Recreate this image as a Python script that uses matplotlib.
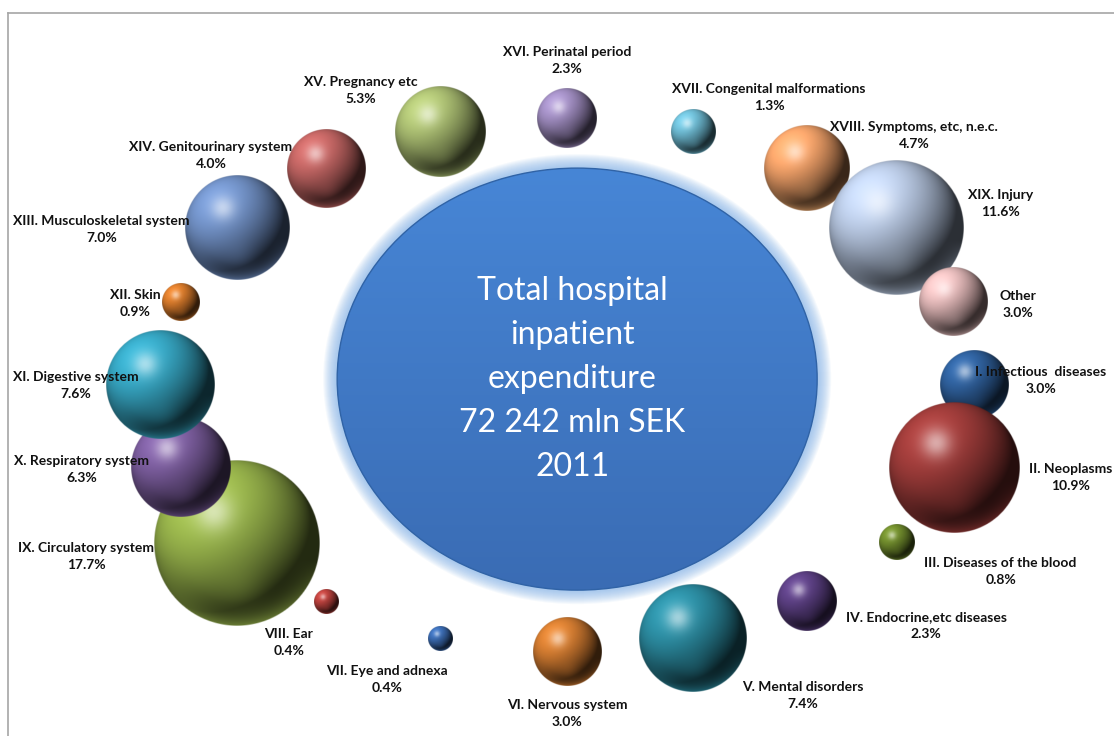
import numpy as np
import matplotlib
matplotlib.use("Agg")
import matplotlib.pyplot as plt
from matplotlib.patches import Ellipse
from matplotlib.lines import Line2D
from matplotlib.colors import to_rgb

# ---------------- data ----------------
categories = ["I. Infectious  diseases", "II. Neoplasms", "III. Diseases of the blood",
              "IV. Endocrine,etc diseases", "V. Mental disorders", "VI. Nervous system",
              "VII. Eye and adnexa", "VIII. Ear", "IX. Circulatory system",
              "X. Respiratory system", "XI. Digestive system", "XII. Skin",
              "XIII. Musculoskeletal system", "XIV. Genitourinary system", "XV. Pregnancy etc",
              "XVI. Perinatal period", "XVII. Congenital malformations",
              "XVIII. Symptoms, etc, n.e.c.", "XIX. Injury", "Other"]
shares = [3.0, 10.9, 0.8, 2.3, 7.4, 3.0, 0.4, 0.4, 17.7, 6.3,
          7.6, 0.9, 7.0, 4.0, 5.3, 2.3, 1.3, 4.7, 11.6, 3.0]
x_pos = [1.00, 0.95, 0.81, 0.59, 0.31, 0.00, -0.31, -0.59, -0.81, -0.95,
         -1.00, -0.95, -0.81, -0.59, -0.31, 0.00, 0.31, 0.59, 0.81, 0.95]
y_pos = [0.00, -0.31, -0.59, -0.81, -0.95, -1.00, -0.95, -0.81, -0.59, -0.31,
         0.00, 0.31, 0.59, 0.81, 0.95, 1.00, 0.95, 0.81, 0.59, 0.31]
center_text = "Total hospital\ninpatient\nexpenditure\n72 242 mln SEK\n2011"

# ---------------- styles ----------------
colors = ["#2f609c", "#9c3b39", "#6f8a2c", "#5b3f82", "#2b8a9f", "#d07a30",
          "#3a6ab0", "#b8403c", "#95b04a", "#7a5c9c", "#35a2be", "#d4782a",
          "#6f8ec2", "#c06462", "#a8bb70", "#9d8abd", "#6cb8d0", "#f0a068",
          "#b6c6e0", "#e2b8b8"]
# label offsets (pixels, x right / y down) from bubble centre to label centre
label_off = [(67, -4), (117, 10), (104, 29), (119, 24), (110, 57), (0, 61),
             (-54, 41), (-38, 41), (-151, 14), (-99, 2), (-84, 1), (-45, 1),
             (-136, 2), (-116, -13), (-80, -41), (0, -57), (76, -34), (107, -33),
             (104, -24), (64, 2)]
MAX_R_PX = 83.0

W, H, DPI = 1114, 736, 100
fig = plt.figure(figsize=(W / DPI, H / DPI), dpi=DPI)
ax = fig.add_axes([0, 0, 1, 1])
xmin, xmax = -1.3931, 1.3440
ymin, ymax = -1.3146, 1.4419
ax.set_xlim(xmin, xmax)
ax.set_ylim(ymin, ymax)
ax.axis("off")
sx = W / (xmax - xmin)
sy = H / (ymax - ymin)


def sphere_rgba(color, n=240):
    c = np.array(to_rgb(color))
    t = np.linspace(-1, 1, n)
    X, Y = np.meshgrid(t, t)
    R2 = X ** 2 + Y ** 2
    r = np.sqrt(R2)
    Z = np.sqrt(np.clip(1 - R2, 0, 1))
    L = np.array([-0.45, 0.55, 0.70])
    L = L / np.linalg.norm(L)
    diff = np.clip(X * L[0] + Y * L[1] + Z * L[2], 0, 1)
    shade = 0.24 + 0.92 * diff
    rgb = c[None, None, :] * shade[..., None]
    hl = np.exp(-((X + 0.28) ** 2 + (Y - 0.38) ** 2) / 0.05)
    rgb = rgb + (1 - rgb) * 0.55 * hl[..., None]
    rim = np.clip((r - 0.72) / 0.28, 0, 1) ** 1.5 * np.clip((-Y - 0.2) / 0.8, 0, 1)
    rgb = rgb * (1 - 0.5 * rim[..., None]) + np.clip(c * 1.15, 0, 1) * 0.5 * rim[..., None]
    refl = np.exp(-((X - 0.05) ** 2 + (Y + 0.55) ** 2) / 0.08) * 0.12
    rgb = rgb + (np.clip(c * 1.2, 0, 1) - rgb) * refl[..., None]
    rgb = np.clip(rgb, 0, 1)
    a = np.clip((1 - r) * n / 2 + 0.5, 0, 1)
    return np.dstack([rgb, a])


# ---------------- centre ellipse ----------------
ecx, ecy = 0.025, 0.022
erx_px, ery_px = 240, 211
for i in range(14, 0, -1):
    ax.add_patch(Ellipse((ecx, ecy), 2 * (erx_px + i) / sx, 2 * (ery_px + i) / sy,
                         facecolor="#7fb0e8", edgecolor="none", alpha=0.07, zorder=1))
ell = Ellipse((ecx, ecy), 2 * erx_px / sx, 2 * ery_px / sy, facecolor="none",
              edgecolor="#3063a6", lw=1.0, zorder=3)
ax.add_patch(ell)
grad = np.linspace(0, 1, 256)[:, None]
top = np.array(to_rgb("#4786d6"))
bot = np.array(to_rgb("#3a6cb4"))
gimg = bot[None, None, :] * (1 - grad[..., None]) + top[None, None, :] * grad[..., None]
gimg = np.repeat(gimg, 4, axis=1)
im = ax.imshow(gimg, extent=[ecx - erx_px / sx, ecx + erx_px / sx, ecy - ery_px / sy, ecy + ery_px / sy],
               origin="lower", aspect="auto", zorder=2, interpolation="bilinear")
im.set_clip_path(ell)
ax.text(ecx - 0.012, ecy + 0.0, center_text, color="white", fontsize=23, family="Lato",
        ha="center", va="center", linespacing=1.58, zorder=4)

# ---------------- bubbles ----------------
vmax = max(shares)
for i, (cat, v, x, y, col) in enumerate(zip(categories, shares, x_pos, y_pos, colors)):
    r_px = MAX_R_PX * np.sqrt(v / vmax)
    ax.imshow(sphere_rgba(col), extent=[x - r_px / sx, x + r_px / sx, y - r_px / sy, y + r_px / sy],
              origin="lower", aspect="auto", zorder=10 + i, interpolation="bilinear")
    dx, dy = label_off[i]
    ax.annotate(f"{cat}\n{v:.1f}%", (x, y), xytext=(dx * 0.72, -dy * 0.72),
                textcoords="offset points", ha="center", va="center",
                fontsize=10, fontweight="bold", family="Lato", color="#111111",
                linespacing=1.5, zorder=50, annotation_clip=False)

# chart border (partially visible)
fig.add_artist(Line2D([8 / W, 1], [1 - 13 / H, 1 - 13 / H], color="#a6a6a6", lw=1.2))
fig.add_artist(Line2D([8 / W, 8 / W], [0, 1 - 13 / H], color="#a6a6a6", lw=1.2))

fig.savefig("out.png", dpi=DPI)
